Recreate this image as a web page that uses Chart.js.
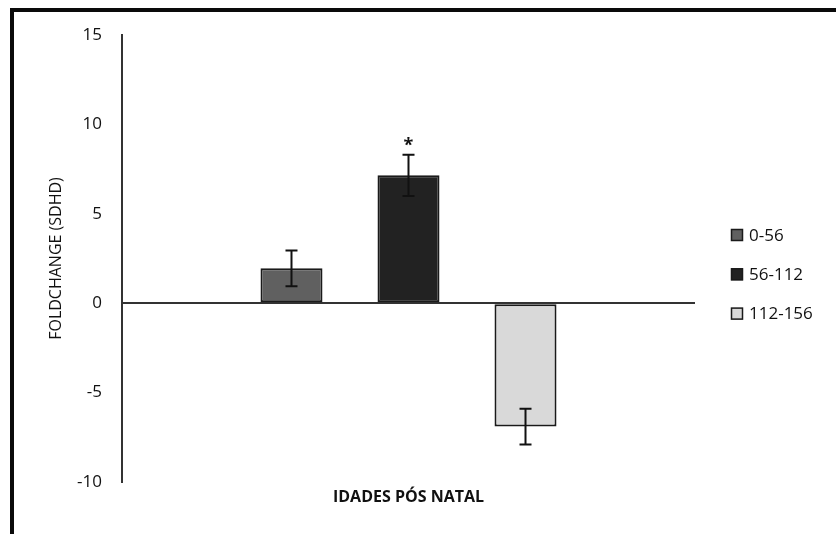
<!DOCTYPE html>
<html>
<head>
<meta charset="utf-8">
<script src="https://cdn.jsdelivr.net/npm/chart.js@4.4.1/dist/chart.umd.min.js"></script>
<style>
  html, body { margin: 0; padding: 0; background: #fff; }
  #wrap { position: relative; width: 836px; height: 534px; overflow: hidden; background: #fff; }
  #frame { position: absolute; left: 10px; top: 8px; width: 900px; height: 600px;
           border-top: 4px solid #0a0a0a; border-left: 4px solid #0a0a0a; box-sizing: border-box; }
  canvas { position: absolute; left: 0; top: 0; }
</style>
</head>
<body>
<div id="wrap">
  <div id="frame"></div>
  <canvas id="c" width="836" height="534"></canvas>
</div>
<script>
// Age groups (postnatal days) and their fold change of SDHD expression
const groups = ['0-56', '56-112', '112-156'];
const foldChange = [1.95, 7.15, -6.9];
const errors = [1.0, 1.15, 1.0];
const significance = ['', '*', ''];
const fills = ['#606060', '#222222', '#d9d9d9'];
const yTicks = [-10, -5, 0, 5, 10, 15];

const FONT = '"Open Sans", "Liberation Sans", sans-serif';

const datasets = groups.map((g, i) => ({
  label: g,
  data: [foldChange[i]],
  backgroundColor: fills[i],
  borderColor: '#1a1a1a',
  borderWidth: 2,
  borderSkipped: false,
  categoryPercentage: 0.6126,
  barPercentage: 0.53
}));

// Error bars and significance marks, positioned from the data through the scales
const errorBars = {
  id: 'errorBars',
  afterDatasetsDraw(chart) {
    const ctx = chart.ctx;
    const y = chart.scales.y;
    ctx.save();
    ctx.strokeStyle = '#111';
    ctx.lineWidth = 2;
    chart.data.datasets.forEach((ds, i) => {
      const bar = chart.getDatasetMeta(i).data[0];
      const v = ds.data[0];
      const hi = y.getPixelForValue(v + errors[i]);
      const lo = y.getPixelForValue(v - errors[i]);
      const x = bar.x;
      const cap = 6;
      ctx.beginPath();
      ctx.moveTo(x, hi); ctx.lineTo(x, lo);
      ctx.moveTo(x - cap, hi); ctx.lineTo(x + cap, hi);
      ctx.moveTo(x - cap, lo); ctx.lineTo(x + cap, lo);
      ctx.stroke();
      if (significance[i]) {
        ctx.fillStyle = '#111';
        ctx.font = 'bold 18px ' + FONT;
        ctx.textAlign = 'center';
        ctx.textBaseline = 'middle';
        ctx.fillText(significance[i], x, Math.min(hi, lo) - 9);
      }
    });
    ctx.restore();
  }
};

// Vertical legend at the right side
const sideLegend = {
  id: 'sideLegend',
  afterDraw(chart) {
    const ctx = chart.ctx;
    ctx.save();
    ctx.font = '17px ' + FONT;
    ctx.textBaseline = 'middle';
    ctx.textAlign = 'left';
    chart.data.datasets.forEach((ds, i) => {
      const cy = 235 + i * 39.3;
      ctx.fillStyle = ds.backgroundColor;
      ctx.fillRect(731, cy - 6, 12, 12);
      ctx.strokeStyle = '#1a1a1a';
      ctx.lineWidth = 1.5;
      ctx.strokeRect(731.5, cy - 5.5, 11, 11);
      ctx.fillStyle = '#111';
      ctx.fillText(ds.label, 749, cy + 1);
    });
    ctx.restore();
  }
};

new Chart(document.getElementById('c'), {
  type: 'bar',
  data: { labels: [''], datasets },
  options: {
    responsive: false,
    animation: false,
    layout: { padding: { left: 0, top: 35, right: 141, bottom: 0 } },
    plugins: { legend: { display: false }, tooltip: { enabled: false } },
    scales: {
      x: {
        grid: { display: false },
        border: { display: false },
        ticks: { display: false },
        title: {
          display: true,
          text: 'IDADES PÓS NATAL',
          color: '#111',
          font: { family: FONT, size: 16, weight: 'bold' },
          padding: { top: 0, bottom: 27 }
        },
        afterFit(scale) { scale.height = 52; }
      },
      y: {
        min: -10,
        max: 15,
        afterBuildTicks(scale) { scale.ticks = yTicks.map(v => ({ value: v })); },
        ticks: {
          color: '#111',
          padding: 20,
          font: { family: FONT, size: 17 }
        },
        grid: {
          drawTicks: false,
          lineWidth: 2,
          color: c => (c.tick && c.tick.value === 0) ? '#333' : 'rgba(0,0,0,0)'
        },
        border: { display: true, color: '#333', width: 2 },
        title: {
          display: true,
          text: 'FOLDCHANGE (SDHD)',
          color: '#111',
          font: { family: FONT, size: 16 },
          padding: { top: 47, bottom: 0 }
        },
        afterFit(scale) { scale.width = 122; }
      }
    }
  },
  plugins: [errorBars, sideLegend]
});
</script>
</body>
</html>
